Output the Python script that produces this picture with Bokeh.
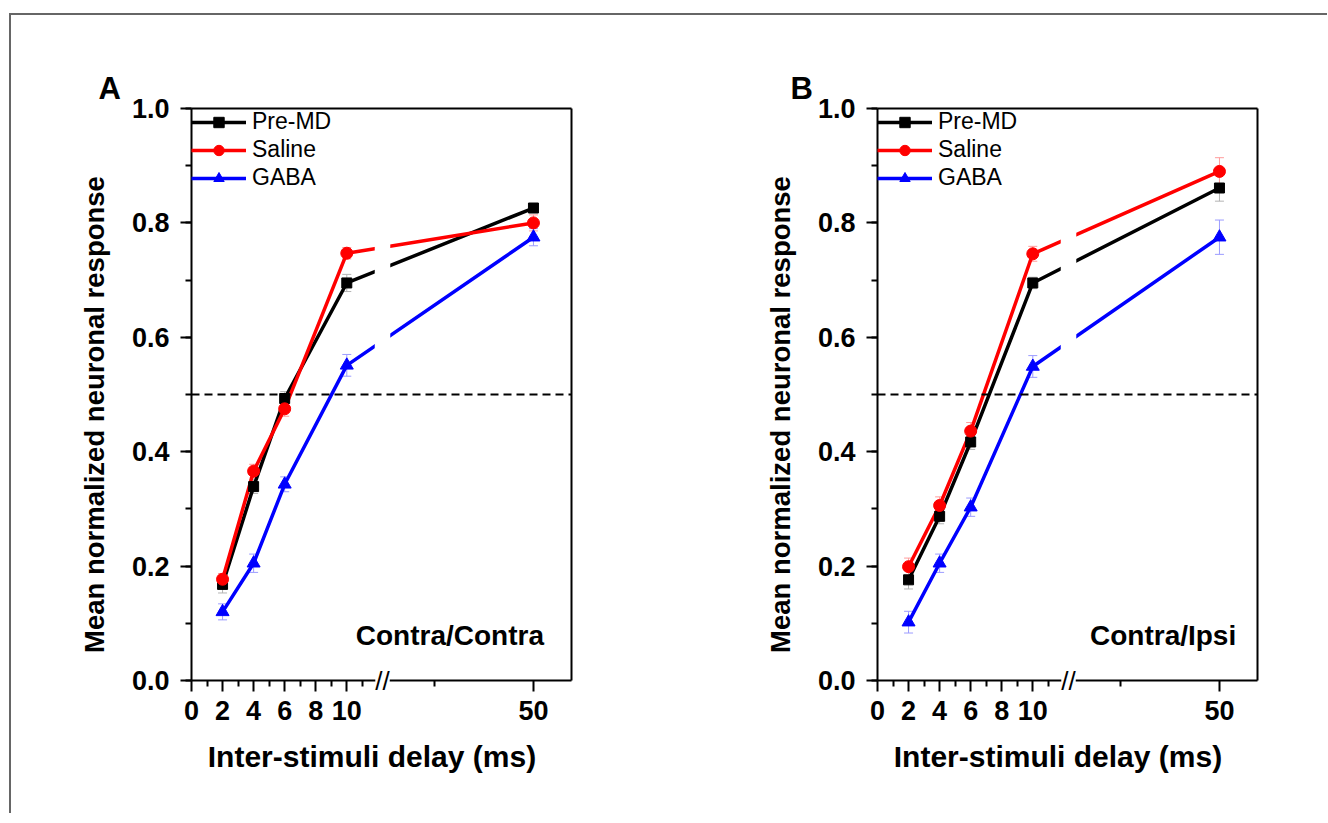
import math
from bokeh.plotting import figure
from bokeh.models import (Range1d, FixedTicker, SingleIntervalTicker, PrintfTickFormatter,
                          LinearAxis, Legend, LegendItem, Label, Span, Whisker, TeeHead,
                          ColumnDataSource, Row)
from bokeh.embed import file_html
from bokeh.resources import INLINE

# ---------------- data ----------------
delays = [2, 4, 6, 10, 50]                      # inter-stimuli delay (ms)
x_major_ticks = [0, 2, 4, 6, 8, 10, 50]
x_major_labels = ["0", "2", "4", "6", "8", "10", "50"]
x_minor_ticks = [1, 3, 5, 7, 9, 11, 30]

series_names = ["Pre-MD", "Saline", "GABA"]

preA = [0.168, 0.339, 0.493, 0.695, 0.826]
preA_err = [0.015, 0.012, 0.012, 0.015, 0.008]
salA = [0.177, 0.366, 0.475, 0.747, 0.800]
salA_err = [0.010, 0.012, 0.013, 0.010, 0.014]
gabA = [0.120, 0.205, 0.343, 0.551, 0.775]
gabA_err = [0.014, 0.016, 0.013, 0.019, 0.015]

preB = [0.176, 0.287, 0.417, 0.695, 0.861]
preB_err = [0.016, 0.013, 0.013, 0.010, 0.023]
salB = [0.199, 0.306, 0.436, 0.746, 0.890]
salB_err = [0.015, 0.015, 0.015, 0.013, 0.024]
gabB = [0.102, 0.205, 0.303, 0.549, 0.775]
gabB_err = [0.019, 0.016, 0.016, 0.019, 0.030]

x_title = "Inter-stimuli delay (ms)"
y_title = "Mean normalized neuronal response"

# ---------------- styling ----------------
FONT = "Liberation Sans"
COLORS = ["#000000", "#ff0000", "#0000ff"]
ERR_COLORS = ["#b4b4b4", "#ff9c9c", "#9c9cff"]
MARKERS = ["square", "circle", "triangle"]
MSIZES = [10, 12, 13]

FRAME_W, FRAME_H = 380, 572

# broken x-axis: linear up to the break, compressed after it
X50_DISP = 22.02
SCALE2 = 0.3195
X_MAX = 24.47
BREAK_LO, BREAK_HI, BREAK_MID = 11.8, 12.8, 12.3


def xpos(ms):
    return ms if ms <= 12 else X50_DISP + (ms - 50) * SCALE2


def make_panel(letter, condition, data, width, mb_right, letter_offset, cond_x):
    p = figure(width=width, height=798, min_border_left=180, min_border_right=mb_right,
               min_border_top=93, min_border_bottom=798 - 93 - FRAME_H,
               x_range=Range1d(0, X_MAX), y_range=Range1d(0, 1),
               output_backend="svg", toolbar_location=None)
    p.grid.visible = False
    p.outline_line_color = None
    p.background_fill_color = "white"
    p.border_fill_color = "white"

    # panel letter as title
    p.title.text = letter
    p.title.text_font = FONT
    p.title.text_font_size = "31px"
    p.title.text_font_style = "bold"
    p.title.text_color = "black"
    p.title.align = "left"
    p.title.offset = letter_offset
    p.title.standoff = 5

    # axes
    xa = p.xaxis[0]
    xa.ticker = FixedTicker(ticks=[xpos(t) for t in x_major_ticks],
                            minor_ticks=[xpos(t) for t in x_minor_ticks])
    xa.major_label_overrides = {xpos(t): lab for t, lab in zip(x_major_ticks, x_major_labels)}
    ya = p.yaxis[0]
    ya.ticker = SingleIntervalTicker(interval=0.2, num_minor_ticks=2)
    ya.formatter = PrintfTickFormatter(format="%.1f")
    for ax in (xa, ya):
        ax.axis_line_width = 2
        ax.major_tick_line_width = 2
        ax.minor_tick_line_width = 2
        ax.major_tick_out = 11
        ax.major_tick_in = 0
        ax.minor_tick_out = 6
        ax.minor_tick_in = 0
        ax.major_label_text_font = FONT
        ax.major_label_text_font_style = "bold"
        ax.major_label_text_font_size = "27px"
        ax.major_label_text_color = "black"
    xa.major_label_standoff = 9
    ya.major_label_standoff = 11

    # top / right frame lines
    for side in ("above", "right"):
        ax = LinearAxis(ticker=FixedTicker(ticks=[]), axis_line_width=2,
                        major_tick_line_color=None, minor_tick_line_color=None)
        p.add_layout(ax, side)

    xs = [xpos(d) for d in delays]
    items = []
    line_rs = []
    for i, (vals, errs) in enumerate(data):
        src = ColumnDataSource(dict(
            x=xs, y=vals,
            upper=[v + e for v, e in zip(vals, errs)],
            lower=[v - e for v, e in zip(vals, errs)]))
        w = Whisker(source=src, base="x", upper="upper", lower="lower",
                    line_color=ERR_COLORS[i], line_width=1, level="underlay",
                    upper_head=TeeHead(size=9, line_color=ERR_COLORS[i], line_width=1),
                    lower_head=TeeHead(size=9, line_color=ERR_COLORS[i], line_width=1))
        p.add_layout(w)
        lr = p.line("x", "y", source=src, line_color=COLORS[i], line_width=3.5)
        line_rs.append((lr, src))

    # gap in the data lines at the axis break
    p.quad(left=[BREAK_LO], right=[BREAK_HI], bottom=[0], top=[1],
           fill_color="white", line_color=None)

    for i, (lr, src) in enumerate(line_rs):
        sr = p.scatter("x", "y", source=src, marker=MARKERS[i], size=MSIZES[i],
                       fill_color=COLORS[i], line_color=COLORS[i])
        items.append(LegendItem(label=series_names[i], renderers=[lr, sr]))

    p.add_layout(Span(location=0.5, dimension="width", line_color="black",
                      line_width=1.8, line_dash="8 5"))

    leg = Legend(items=items, location="top_left", border_line_color=None,
                 background_fill_alpha=0, margin=0, padding=0, spacing=1,
                 glyph_width=55, glyph_height=26, label_height=26, label_standoff=6,
                 label_text_font=FONT, label_text_font_size="23px",
                 label_text_color="black")
    p.add_layout(leg)

    # axis break symbol, in a side panel so that it is not clipped to the frame
    p.add_layout(Label(x=BREAK_MID, y=0, text="//", text_font=FONT, text_font_size="26px",
                       text_align="center", text_baseline="middle", text_color="black",
                       background_fill_color="white"), "below")
    # axis titles
    p.add_layout(Label(x=11.62, y=-0.1337, text=x_title, text_font=FONT,
                       text_font_size="30px", text_font_style="bold", text_color="black",
                       text_align="center", text_baseline="alphabetic"), "below")
    p.add_layout(Label(x=-6.25, y=0.465, text=y_title, angle=math.pi / 2, text_font=FONT,
                       text_font_size="27.5px", text_font_style="bold", text_color="black",
                       text_align="center", text_baseline="middle"), "left")
    # condition text
    p.add_layout(Label(x=cond_x, y=0.079, text=condition, text_font=FONT,
                       text_font_size="28px", text_font_style="bold", text_color="black",
                       text_align="right", text_baseline="alphabetic"))
    return p


pA = make_panel("A", "Contra/Contra",
                [(preA, preA_err), (salA, salA_err), (gabA, gabA_err)],
                width=686, mb_right=686 - 180 - FRAME_W, letter_offset=-93, cond_x=22.7)
pB = make_panel("B", "Contra/Ipsi",
                [(preB, preB_err), (salB, salB_err), (gabB, gabB_err)],
                width=630, mb_right=630 - 180 - FRAME_W, letter_offset=-87, cond_x=23.1)

layout = Row(children=[pA, pB], margin=(13, 0, 0, 9),
             styles={"border-left": "2px solid #666666", "border-top": "2px solid #666666"})

open("out.html", "w").write(file_html(layout, INLINE))
